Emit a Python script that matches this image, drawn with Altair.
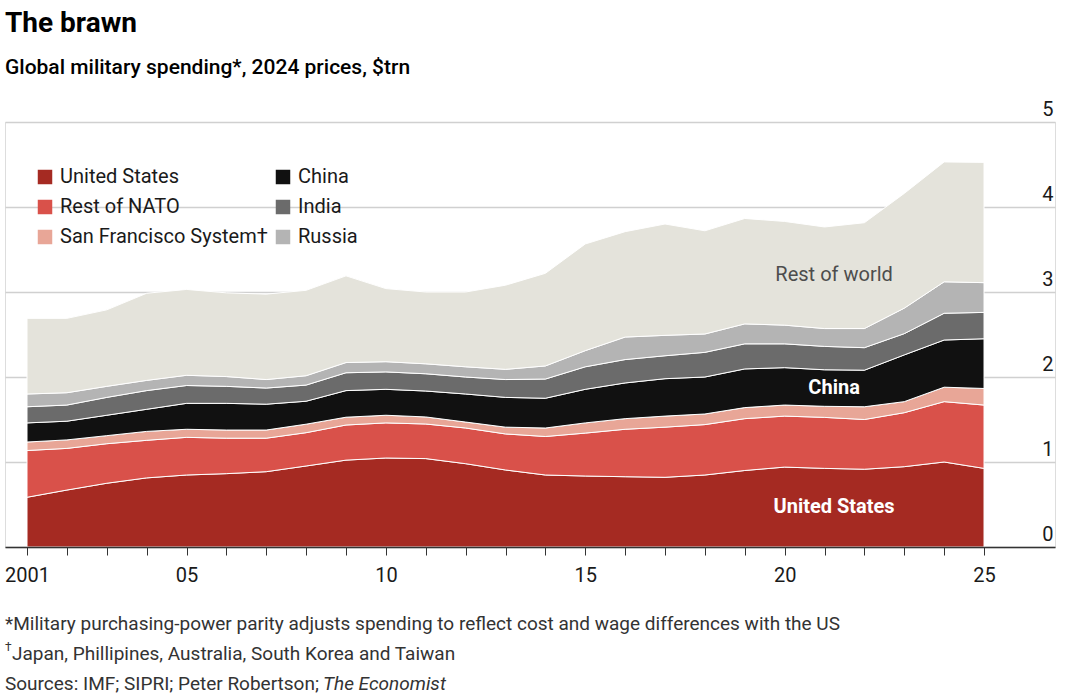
import altair as alt
import pandas as pd

# Global military spending, 2024 prices, $trn (military PPP)
years = list(range(2001, 2026))
united_states = [0.585, 0.67, 0.75, 0.813, 0.847, 0.863, 0.886, 0.953, 1.022, 1.047,
                 1.04, 0.98, 0.906, 0.847, 0.835, 0.827, 0.82, 0.847, 0.90, 0.94,
                 0.925, 0.915, 0.945, 1.00, 0.925]
rest_of_nato = [0.55, 0.49, 0.465, 0.442, 0.443, 0.417, 0.394, 0.392, 0.413, 0.413,
                0.407, 0.42, 0.424, 0.453, 0.505, 0.558, 0.59, 0.593, 0.61, 0.60,
                0.60, 0.585, 0.635, 0.71, 0.745]
san_francisco = [0.10, 0.10, 0.095, 0.105, 0.095, 0.096, 0.096, 0.10, 0.092, 0.09,
                 0.083, 0.07, 0.08, 0.10, 0.12, 0.125, 0.13, 0.125, 0.13, 0.13,
                 0.13, 0.15, 0.13, 0.17, 0.195]
china = [0.225, 0.22, 0.24, 0.26, 0.305, 0.314, 0.304, 0.27, 0.313, 0.305,
         0.305, 0.33, 0.35, 0.35, 0.395, 0.42, 0.44, 0.435, 0.455, 0.44,
         0.43, 0.43, 0.55, 0.555, 0.585]
india = [0.19, 0.19, 0.21, 0.22, 0.21, 0.20, 0.19, 0.19, 0.21, 0.205,
         0.203, 0.20, 0.21, 0.226, 0.265, 0.275, 0.27, 0.29, 0.295, 0.28,
         0.275, 0.265, 0.25, 0.315, 0.31]
russia = [0.15, 0.145, 0.13, 0.12, 0.12, 0.115, 0.10, 0.11, 0.12, 0.12,
          0.117, 0.12, 0.12, 0.154, 0.19, 0.265, 0.24, 0.216, 0.235, 0.22,
          0.21, 0.225, 0.30, 0.37, 0.35]
rest_of_world = [0.89, 0.875, 0.90, 1.025, 1.01, 0.985, 1.005, 1.005, 1.02, 0.86,
                 0.845, 0.88, 0.99, 1.09, 1.255, 1.24, 1.31, 1.214, 1.24, 1.22,
                 1.195, 1.245, 1.35, 1.41, 1.415]

series_names = ["United States", "Rest of NATO", "San Francisco System†", "China",
                "India", "Russia", "Rest of world"]
series_values = [united_states, rest_of_nato, san_francisco, china, india, russia,
                 rest_of_world]
series_colors = ["#a52a22", "#d9514a", "#e8a697", "#111111", "#6b6b6b", "#b4b4b4",
                 "#e4e3db"]
# legend fills column by column: allies on the left, rivals on the right
legend_entries = ["United States", "Rest of NATO", "San Francisco System†",
                  "China", "India", "Russia"]

y_ticks = [0, 1, 2, 3, 4, 5]

rows = []
for rank, (name, vals) in enumerate(zip(series_names, series_values)):
    for yr, v in zip(years, vals):
        rows.append({"year": yr, "series": name, "rank": rank, "value": v})
df = pd.DataFrame(rows)

# in-chart series labels
annotations = pd.DataFrame({
    "label": ["Rest of world", "China", "United States"],
    "year": [2021.24, 2021.24, 2021.24],
    "value": [3.2, 1.87, 0.47],
    "kind": ["grey", "white", "white"],
})

W, H = 1050, 425
FONT = "Roboto"

x_scale = alt.Scale(domain=[2000.448, 2026.78], nice=False, zero=False)
y_scale = alt.Scale(domain=[0, 5], nice=False)

areas = alt.Chart(df).mark_area(stroke="white", strokeWidth=1, interpolate="linear").encode(
    x=alt.X(
        "year:Q", scale=x_scale, title=None,
        axis=alt.Axis(
            values=years, format="d",
            labelExpr="datum.value == 2001 ? datum.label : (datum.value % 5 == 0 ? slice(datum.label, 2) : '')",
            labelOverlap=False, labelFlush=False, grid=False,
            domainColor="#333333", domainWidth=1.5,
            tickColor="#333333", tickSize=8, tickWidth=1,
            labelFont=FONT, labelFontSize=20, labelColor="#1a1a1a", labelPadding=10,
            zindex=1,
        ),
    ),
    y=alt.Y(
        "value:Q", stack="zero", scale=y_scale, title=None,
        axis=alt.Axis(
            orient="right", values=y_ticks, format="d", grid=True,
            gridColor="#d0d0d0", gridWidth=1.3,
            domain=False, ticks=False, labelAlign="right", labelBaseline="bottom",
            labelPadding=-2, labelOffset=-3,
            labelFont=FONT, labelFontSize=20, labelColor="#1a1a1a",
        ),
    ),
    color=alt.Color(
        "series:N",
        scale=alt.Scale(domain=series_names, range=series_colors),
        legend=alt.Legend(
            values=legend_entries, columns=2, orient="none", legendX=30, legendY=45,
            title=None, symbolType="square", symbolSize=210, symbolStrokeWidth=0,
            labelFont=FONT, labelFontSize=20, labelColor="#1a1a1a", labelOffset=5,
            labelLimit=320, rowPadding=10, columnPadding=5, padding=0,
        ),
    ),
    order=alt.Order("rank:Q", sort="ascending"),
)

grey_labels = alt.Chart(annotations).transform_filter("datum.kind == 'grey'").mark_text(
    font=FONT, fontSize=20, color="#4d4d4d", align="center", baseline="middle"
).encode(x=alt.X("year:Q", scale=x_scale), y=alt.Y("value:Q", scale=y_scale), text="label:N")

white_labels = alt.Chart(annotations).transform_filter("datum.kind == 'white'").mark_text(
    font=FONT, fontSize=20, fontWeight="bold", color="white", align="center", baseline="middle"
).encode(x=alt.X("year:Q", scale=x_scale), y=alt.Y("value:Q", scale=y_scale), text="label:N")


def text_line(text, x, y, size=19, weight="normal", style="normal", color="#333333"):
    return alt.Chart(pd.DataFrame({"t": [text]})).mark_text(
        align="left", baseline="middle", font=FONT, fontSize=size, fontWeight=weight,
        fontStyle=style, color=color,
    ).encode(x=alt.value(x), y=alt.value(y), text="t:N")


title = text_line("The brawn", 0, -98, size=28, weight="bold", color="#000000")
subtitle = text_line("Global military spending*, 2024 prices, $trn", 0, -54, size=21,
                     weight=500, color="#000000")
note1 = text_line("*Military purchasing-power parity adjusts spending to reflect cost and wage differences with the US",
                  0, 502)
dagger = text_line("†", 0, 525, size=12)
note2 = text_line("Japan, Phillipines, Australia, South Korea and Taiwan", 7, 532)
note3 = text_line("Sources: IMF; SIPRI; Peter Robertson;", 0, 562)
note3b = text_line("The Economist", 318, 562, style="italic")

chart = alt.layer(
    areas, grey_labels, white_labels, title, subtitle, note1, dagger, note2, note3, note3b
).properties(
    width=W, height=H,
    padding={"left": 5, "top": 122, "right": 14, "bottom": 153},
    autosize="none",
).configure_view(stroke=None).configure(background="white")

chart.save("out.html", embed_options={"renderer": "svg", "actions": False})
